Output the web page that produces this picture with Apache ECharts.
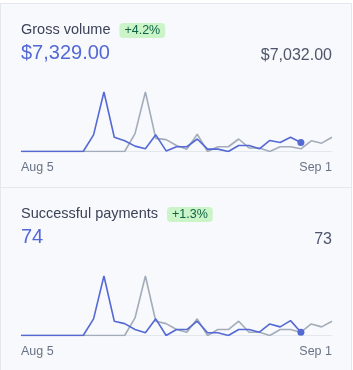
<!DOCTYPE html>
<html>
<head>
<meta charset="utf-8">
<script src="https://cdn.jsdelivr.net/npm/echarts@6/dist/echarts.min.js"></script>
<style>
  html, body { margin: 0; padding: 0; background: #fff; }
  #chart { width: 353px; height: 370px; }
</style>
</head>
<body>
<div id="chart"></div>
<script>
// day index along the x axis, 31 slots
const days = Array.from({ length: 31 }, (_, i) => String(i))
const tickLabels = ['Aug 5', 'Sep 1']

// gross volume (relative to peak)
const volumeCurrent = [0, 0, 0, 0, 0, 0, 0, 28, 100, 24, 18, 9, 4.5, 28, 1, 8, 8, 21, 4, 4, 0, 10, 10, 4.5, 18.5, 15, 24, 15]
const volumePrevious = [0, 0, 0, 0, 0, 0, 0, 0, 0, 0, 0, 30, 100, 22, 20, 10, 4, 29, 0, 8, 8, 21, 6, 6, 0, 8, 8, 4.5, 18, 14, 24]

// successful payments (relative to peak)
const paymentsCurrent = [0, 0, 0, 0, 0, 0, 0, 28, 100, 24, 20, 10, 4.5, 28, 0, 10, 10, 24, 4.5, 4.5, 0, 10, 10, 5.5, 19.5, 14.5, 25, 5.5]
const paymentsPrevious = [0, 0, 0, 0, 0, 0, 0, 0, 0, 0, 0, 29.5, 100, 24, 20, 10, 5.5, 28, 0, 10, 10, 24, 5.5, 5.5, 0, 10, 10, 5.5, 19.5, 14.5, 24]

const panels = [
  { title: 'Gross volume', badge: '+4.2%', value: '$7,329.00', prev: '$7,032.00' },
  { title: 'Successful payments', badge: '+1.3%', value: '74', prev: '73' }
]

const FONT = "'Liberation Sans', Arial, sans-serif"
const BLUE = '#5469d4'
const GRAY = '#a3acb9'
const PANEL_H = 184

function withEndDot(arr) {
  return arr.map((v, i) => i === arr.length - 1 ? { value: v, symbol: 'circle', symbolSize: 7 } : v)
}

function textWidth(text, font) {
  const ctx = document.createElement('canvas').getContext('2d')
  ctx.font = font
  return ctx.measureText(text).width
}

const graphics = [
  { type: 'rect', shape: { x: 0.5, y: 3.5, width: 351, height: 400 }, style: { fill: '#f7f9fc', stroke: '#e3e8ee', lineWidth: 1 }, z: -10 },
  { type: 'line', shape: { x1: 0, y1: 187.5, x2: 352, y2: 187.5 }, style: { stroke: '#e3e8ee', lineWidth: 1 }, z: -9 }
]

panels.forEach((p, k) => {
  const dy = k * PANEL_H
  const titleFont = `14.5px ${FONT}`
  const badgeFont = `12.5px ${FONT}`
  const bx = 21 + textWidth(p.title, titleFont) + 9
  const bw = textWidth(p.badge, badgeFont) + 10
  graphics.push(
    { type: 'text', x: 21, y: 30 + dy, style: { text: p.title, font: titleFont, fill: '#3c4257', verticalAlign: 'middle' } },
    { type: 'text', x: 21, y: 53 + dy, style: { text: p.value, font: `20px ${FONT}`, fill: BLUE, verticalAlign: 'middle' } },
    { type: 'text', x: 332, y: 56 + dy, style: { text: p.prev, font: `16px ${FONT}`, fill: '#4f566b', align: 'right', verticalAlign: 'middle' } },
    {
      type: 'group', x: bx, y: 23 + dy,
      children: [
        { type: 'rect', shape: { x: 0, y: 0, width: bw, height: 15, r: 4 }, style: { fill: '#cbf4c9' } },
        { type: 'text', x: bw / 2, y: 8, style: { text: p.badge, font: badgeFont, fill: '#0e6245', align: 'center', verticalAlign: 'middle' } }
      ]
    }
  )
})

const chart = echarts.init(document.getElementById('chart'), null, { renderer: 'canvas' })

function xAxis(gridIndex) {
  return {
    type: 'category', gridIndex, data: days, boundaryGap: false,
    axisLine: { lineStyle: { color: '#e3e8ee', width: 1 } },
    axisTick: { show: false },
    axisLabel: {
      interval: 0, margin: 10, color: '#697386', fontSize: 12.5, fontFamily: FONT,
      alignMinLabel: 'left', alignMaxLabel: 'right',
      formatter: (v, i) => i === 0 ? tickLabels[0] : (i === days.length - 1 ? tickLabels[1] : '')
    }
  }
}

function yAxis(gridIndex) {
  return { type: 'value', gridIndex, min: 0, max: 100, show: false, splitLine: { show: false } }
}

function lines(cur, prev, idx) {
  return [
    { type: 'line', xAxisIndex: idx, yAxisIndex: idx, data: prev, symbol: 'none', lineStyle: { color: GRAY, width: 1.6 }, itemStyle: { color: GRAY }, z: 2, silent: true },
    { type: 'line', xAxisIndex: idx, yAxisIndex: idx, data: withEndDot(cur), symbol: 'none', showAllSymbol: true, lineStyle: { color: BLUE, width: 1.6 }, itemStyle: { color: BLUE }, z: 3, silent: true }
  ]
}

chart.setOption({
  animation: false,
  grid: [
    { left: 21, right: 21, top: 92, height: 59.5 },
    { left: 21, right: 21, top: 92 + PANEL_H, height: 59.5 }
  ],
  xAxis: [xAxis(0), xAxis(1)],
  yAxis: [yAxis(0), yAxis(1)],
  series: [...lines(volumeCurrent, volumePrevious, 0), ...lines(paymentsCurrent, paymentsPrevious, 1)],
  graphic: graphics
})
</script>
</body>
</html>
